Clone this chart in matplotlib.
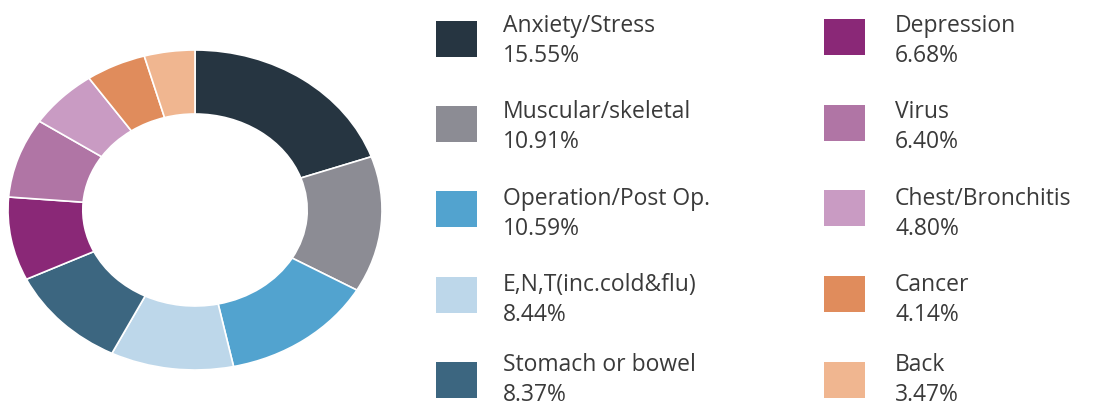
import matplotlib
matplotlib.use("Agg")
import matplotlib.pyplot as plt
from matplotlib.patches import Rectangle

plt.rcParams['font.family'] = ['Open Sans', 'DejaVu Sans']

labels = ["Anxiety/Stress", "Muscular/skeletal", "Operation/Post Op.",
          "E,N,T(inc.cold&flu)", "Stomach or bowel", "Depression", "Virus",
          "Chest/Bronchitis", "Cancer", "Back"]
values = [15.55, 10.91, 10.59, 8.44, 8.37, 6.68, 6.40, 4.80, 4.14, 3.47]
colors = ["#263541", "#8c8c94", "#52a3cf", "#bdd7ea", "#3c6680",
          "#8a2877", "#b075a5", "#c99bc3", "#e08c5c", "#f0b690"]

W, H = 1094, 405
fig = plt.figure(figsize=(W / 100, H / 100), dpi=100)

# donut (slightly stretched horizontally, like the source image)
ax = fig.add_axes([8 / W, (H - 370) / H, 374 / W, 320 / H])
ax.pie(values, colors=colors, startangle=90, counterclock=False,
       radius=1.0, wedgeprops=dict(width=0.4, edgecolor="white", linewidth=1.2))
ax.set_aspect('auto')
ax.set_xlim(-1, 1)
ax.set_ylim(-1, 1)
ax.axis('off')

# legend: two columns of five
txt_color = "#3a3a3a"
for i, (lab, val, col) in enumerate(zip(labels, values, colors)):
    c, r = divmod(i, 5)
    sq_x = 436 if c == 0 else 824
    tx = 503 if c == 0 else 895
    top = 21 + r * 85.2 if c == 0 else 19 + r * 85.7
    vbase = min(62 + r * 86.3, 401)   # keep the bottom row inside the image
    fig.add_artist(Rectangle((sq_x / W, 1 - (top + 36) / H), 41 / W, 36 / H,
                             transform=fig.transFigure, facecolor=col,
                             edgecolor="none"))
    fig.text(tx / W, 1 - (vbase - 30) / H, lab, fontsize=16.5, color=txt_color,
             va='baseline', ha='left')
    fig.text(tx / W, 1 - vbase / H, f"{val:.2f}%", fontsize=16.5,
             color=txt_color, va='baseline', ha='left')

fig.savefig("out.png", dpi=100)
